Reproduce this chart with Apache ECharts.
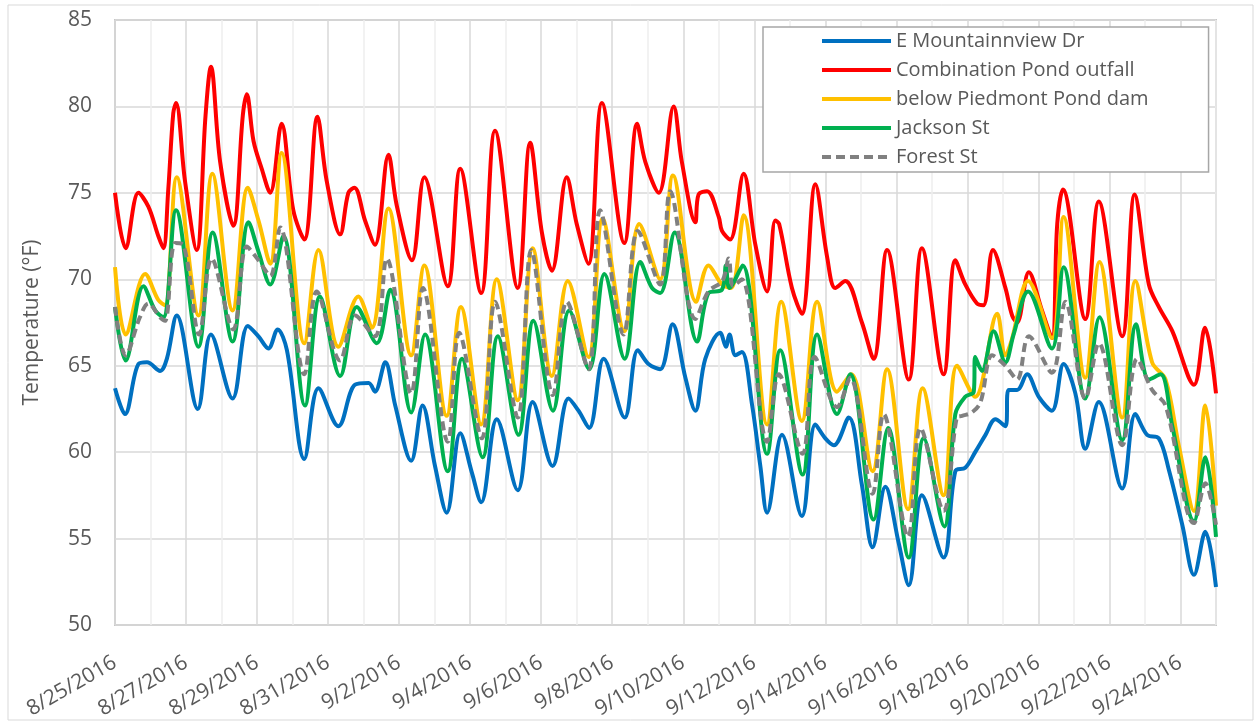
<!DOCTYPE html>
<html>
<head>
<meta charset="utf-8">
<script src="https://cdn.jsdelivr.net/npm/echarts@6/dist/echarts.min.js"></script>
<style>
  html, body { margin: 0; padding: 0; background: #fff; }
  #chart { width: 1255px; height: 722px; }
</style>
</head>
<body>
<div id="chart"></div>
<script>
// day offsets counted from 8/25/2016 00:00, temperatures in °F
const startDate = [2016, 7, 25];
const yTicks = { min: 50, max: 85, step: 5 };
const xDays = { min: 0, max: 31 };

const mountainview = [[0,63.7],[0.28,62.2],[0.66,65.1],[0.9,65.2],[1.27,64.7],[1.46,65.4],[1.74,67.9],[2.33,62.5],[2.7,66.8],[3.31,63.1],[3.74,67.3],[4.04,66.7],[4.32,66.0],[4.58,67.1],[4.84,65.9],[5.33,59.6],[5.73,63.7],[6.29,61.5],[6.76,63.9],[7.14,64.0],[7.32,63.5],[7.61,65.2],[7.89,62.7],[8.34,59.5],[8.66,62.7],[9.01,59.2],[9.34,56.5],[9.72,61.1],[10.05,58.8],[10.31,57.1],[10.75,61.9],[11.34,57.8],[11.76,62.9],[12.32,59.2],[12.77,63.1],[13.05,62.4],[13.35,61.4],[13.76,65.4],[14.35,62.0],[14.72,65.9],[15.02,65.1],[15.35,64.8],[15.7,67.4],[16.06,64.3],[16.34,62.4],[16.62,65.4],[17.04,66.9],[17.2,66.1],[17.3,66.8],[17.47,65.6],[17.65,65.8],[17.94,62.7],[18.17,59.2],[18.36,56.5],[18.78,61.0],[19.34,56.3],[19.72,61.6],[20.0,60.8],[20.24,60.4],[20.66,62.0],[21.03,58.1],[21.33,54.5],[21.69,58.0],[22.07,54.7],[22.35,52.3],[22.72,57.5],[23.33,53.9],[23.66,58.9],[23.94,59.1],[24.22,60.0],[24.51,61.0],[24.79,61.9],[25.07,61.5],[25.16,63.6],[25.4,63.6],[25.68,64.5],[26.01,63.2],[26.38,62.4],[26.71,65.1],[27.04,63.4],[27.32,60.2],[27.7,62.9],[28.36,57.9],[28.73,62.2],[29.06,61.0],[29.39,60.8],[29.67,59.0],[30.05,55.8],[30.38,52.9],[30.7,55.4],[31.0,52.2]];

const combination = [[0,75.0],[0.3,71.8],[0.66,75.0],[0.94,74.2],[1.22,72.5],[1.36,71.8],[1.5,75.2],[1.64,79.6],[1.72,80.2],[1.97,75.7],[2.3,71.7],[2.55,79.5],[2.7,82.3],[2.96,76.8],[3.33,73.1],[3.6,79.5],[3.71,80.7],[3.9,78.0],[4.13,76.4],[4.37,75.0],[4.69,79.0],[5.02,74.0],[5.33,72.3],[5.7,79.4],[5.96,75.7],[6.34,72.6],[6.57,75.0],[6.74,75.3],[7.04,73.4],[7.32,72.0],[7.7,77.2],[7.93,74.3],[8.36,71.1],[8.71,75.9],[9.37,69.6],[9.72,76.4],[10.31,69.2],[10.7,78.6],[11.34,69.5],[11.69,77.9],[12.02,72.7],[12.3,70.5],[12.72,75.9],[13.0,73.2],[13.33,70.9],[13.71,80.2],[14.34,72.1],[14.7,79.0],[14.93,76.8],[15.31,75.0],[15.73,80.0],[15.96,76.8],[16.34,73.3],[16.43,74.9],[16.67,75.1],[17.0,73.6],[17.09,72.8],[17.32,72.3],[17.7,76.1],[18.03,72.0],[18.36,69.3],[18.59,73.4],[18.7,73.2],[19.06,69.5],[19.34,68.0],[19.72,75.5],[20.05,71.3],[20.28,69.5],[20.56,69.9],[21.03,67.5],[21.36,65.4],[21.74,71.7],[22.35,64.2],[22.72,71.8],[23.33,64.5],[23.66,71.1],[23.94,69.7],[24.27,68.6],[24.45,68.5],[24.72,71.7],[25.07,69.5],[25.26,67.9],[25.4,67.5],[25.73,70.4],[26.1,68.2],[26.38,66.6],[26.53,73.2],[26.69,75.2],[27.32,67.7],[27.7,74.5],[28.36,66.7],[28.71,74.9],[29.11,69.7],[29.39,68.4],[29.77,67.0],[30.38,63.9],[30.69,67.2],[31.0,63.4]];

const piedmont = [[0,70.7],[0.3,66.8],[0.85,70.3],[1.22,68.8],[1.41,68.5],[1.74,75.9],[2.35,67.9],[2.74,76.1],[3.31,68.2],[3.74,75.3],[4.04,73.4],[4.37,70.9],[4.69,77.3],[5.33,66.3],[5.73,71.7],[6.29,66.1],[6.85,69.0],[7.23,67.2],[7.7,74.1],[8.34,65.6],[8.71,70.8],[9.34,62.1],[9.74,68.4],[10.31,61.6],[10.75,70.0],[11.34,63.0],[11.76,71.8],[12.3,64.4],[12.75,69.9],[13.33,65.5],[13.73,73.5],[14.34,67.0],[14.76,73.2],[15.35,70.0],[15.71,76.0],[16.36,68.7],[16.71,70.8],[17.09,69.7],[17.35,69.5],[17.7,73.7],[18.36,61.6],[18.76,68.7],[19.34,61.8],[19.77,68.7],[20.33,63.5],[20.73,64.5],[21.33,58.9],[21.74,64.8],[22.33,56.7],[22.74,63.7],[23.33,57.5],[23.71,65.0],[24.22,63.2],[24.84,68.0],[25.07,65.6],[25.25,66.5],[25.71,69.9],[26.38,66.6],[26.71,73.6],[27.32,64.3],[27.72,71.0],[28.36,62.0],[28.73,69.9],[29.2,65.2],[29.58,64.2],[29.95,60.4],[30.38,56.6],[30.7,62.7],[31.0,56.9]];

const jackson = [[0,68.4],[0.3,65.3],[0.8,69.6],[1.13,68.2],[1.36,67.8],[1.72,74.0],[2.35,66.1],[2.75,72.7],[3.31,66.4],[3.76,73.3],[4.04,71.6],[4.37,69.7],[4.74,72.5],[5.35,62.7],[5.77,69.0],[6.34,64.4],[6.81,68.4],[7.37,66.3],[7.75,69.4],[8.34,62.3],[8.73,66.8],[9.37,58.9],[9.77,65.4],[10.35,59.7],[10.78,66.7],[11.36,61.0],[11.78,67.6],[12.33,62.4],[12.79,68.2],[13.35,64.8],[13.78,70.3],[14.35,65.4],[14.79,71.0],[15.12,69.5],[15.35,69.2],[15.76,72.7],[16.39,66.4],[16.71,69.2],[17.09,69.4],[17.2,70.8],[17.3,69.5],[17.67,70.8],[18.36,59.9],[18.73,65.9],[19.36,58.7],[19.77,66.8],[20.33,62.2],[20.7,64.5],[21.36,56.1],[21.77,61.4],[22.35,53.9],[22.77,60.8],[23.35,55.7],[23.66,62.2],[23.94,63.2],[24.18,63.5],[24.22,65.5],[24.41,64.7],[24.74,67.0],[25.07,65.2],[25.3,66.8],[25.71,69.3],[26.38,66.0],[26.71,70.7],[27.32,63.1],[27.72,67.8],[28.36,60.7],[28.75,67.4],[29.11,64.2],[29.44,64.5],[29.77,61.5],[30.38,56.0],[30.7,59.7],[31.0,55.1]];

const forest = [[0,68.4],[0.3,65.6],[0.7,67.8],[0.94,68.6],[1.27,67.8],[1.41,67.6],[1.69,72.1],[1.92,72.0],[2.37,66.8],[2.72,71.2],[3.33,67.1],[3.71,71.9],[4.04,71.1],[4.37,70.2],[4.65,73.0],[5.33,64.5],[5.68,69.3],[6.34,65.3],[6.76,67.9],[7.32,66.7],[7.65,71.2],[8.34,63.4],[8.67,69.5],[9.37,60.6],[9.69,66.9],[10.33,60.8],[10.7,68.7],[11.34,62.0],[11.72,71.7],[12.33,63.3],[12.72,68.7],[13.33,64.8],[13.66,74.0],[14.32,66.8],[14.72,72.8],[15.35,69.7],[15.63,75.1],[16.34,67.7],[16.71,69.3],[17.1,69.9],[17.28,71.2],[17.4,69.6],[17.65,70.0],[18.36,60.6],[18.69,64.5],[19.36,59.9],[19.7,65.5],[20.33,62.6],[20.7,64.3],[21.33,57.6],[21.64,62.2],[22.33,55.1],[22.68,61.4],[23.33,56.6],[23.7,62.0],[23.85,62.1],[24.13,62.3],[24.37,62.9],[24.7,65.6],[25.07,65.0],[25.4,64.2],[25.73,66.7],[26.38,64.6],[26.76,68.7],[27.32,63.1],[27.7,66.3],[28.36,60.4],[28.78,65.4],[29.2,63.6],[29.58,62.7],[30.38,55.9],[30.7,58.2],[31.0,55.8]];

const seriesNames = ['E Mountainnview Dr', 'Combination Pond outfall', 'below Piedmont Pond dam', 'Jackson St', 'Forest St'];
const seriesData = [mountainview, combination, piedmont, jackson, forest];
const seriesColors = ['#0070C0', '#FF0000', '#FFC000', '#00B050', '#808080'];

const chart = echarts.init(document.getElementById('chart'), null, { renderer: 'canvas' });

function dayLabel(d) {
  // only every second day gets a label, like the original
  if (d % 2 !== 0 || d >= xDays.max) return '';
  const dt = new Date(startDate[0], startDate[1], startDate[2] + d);
  return (dt.getMonth() + 1) + '/' + dt.getDate() + '/' + dt.getFullYear();
}

const font = '"Open Sans", "Noto Sans", sans-serif';

const option = {
  backgroundColor: '#fff',
  animation: false,
  textStyle: { fontFamily: font },
  graphic: [{
    type: 'rect',
    shape: { x: 8, y: 5, width: 1245, height: 715 },
    style: { fill: 'none', stroke: '#d9d9d9', lineWidth: 1 },
    silent: true,
    z: -10
  }],
  grid: {
    left: 115, right: 39, top: 20, bottom: 97,
    show: true,
    borderColor: '#c6c6c6',
    borderWidth: 2
  },
  legend: {
    orient: 'vertical',
    left: 763,
    top: 27,
    padding: [4, 60, 5, 57],
    itemWidth: 69,
    itemHeight: 20,
    itemGap: 9,
    backgroundColor: '#fff',
    borderColor: '#a6a6a6',
    borderWidth: 1.5,
    itemStyle: { opacity: 0 },
    lineStyle: { width: 4 },
    textStyle: { fontSize: 20, color: '#595959', fontFamily: font },
    data: seriesNames
  },
  xAxis: {
    type: 'value',
    min: xDays.min,
    max: xDays.max,
    interval: 1,
    axisLine: { show: false },
    axisTick: { show: false },
    axisLabel: {
      rotate: 30,
      margin: 36,
      fontSize: 21,
      color: '#595959',
      fontFamily: font,
      formatter: dayLabel
    },
    splitLine: {
      show: true,
      lineStyle: { color: ['#d9d9d9', '#eeeeee'], width: 1.5 }
    }
  },
  yAxis: {
    type: 'value',
    min: yTicks.min,
    max: yTicks.max,
    interval: yTicks.step,
    name: 'Temperature (°F)',
    nameLocation: 'middle',
    nameRotate: 90,
    nameGap: 72,
    nameTextStyle: { fontSize: 21, color: '#595959', fontFamily: font },
    axisLine: { show: false },
    axisTick: { show: false },
    axisLabel: { margin: 23, fontSize: 21, color: '#595959', fontFamily: font },
    splitLine: { lineStyle: { color: '#d9d9d9', width: 1.5 } }
  },
  series: seriesNames.map((name, i) => ({
    name: name,
    type: 'line',
    data: seriesData[i],
    showSymbol: false,
    symbol: 'none',
    smooth: 0.35,
    color: seriesColors[i],
    lineStyle: {
      width: 4,
      color: seriesColors[i],
      type: i === 4 ? [9, 5] : 'solid'
    }
  }))
};

chart.setOption(option);
</script>
</body>
</html>
